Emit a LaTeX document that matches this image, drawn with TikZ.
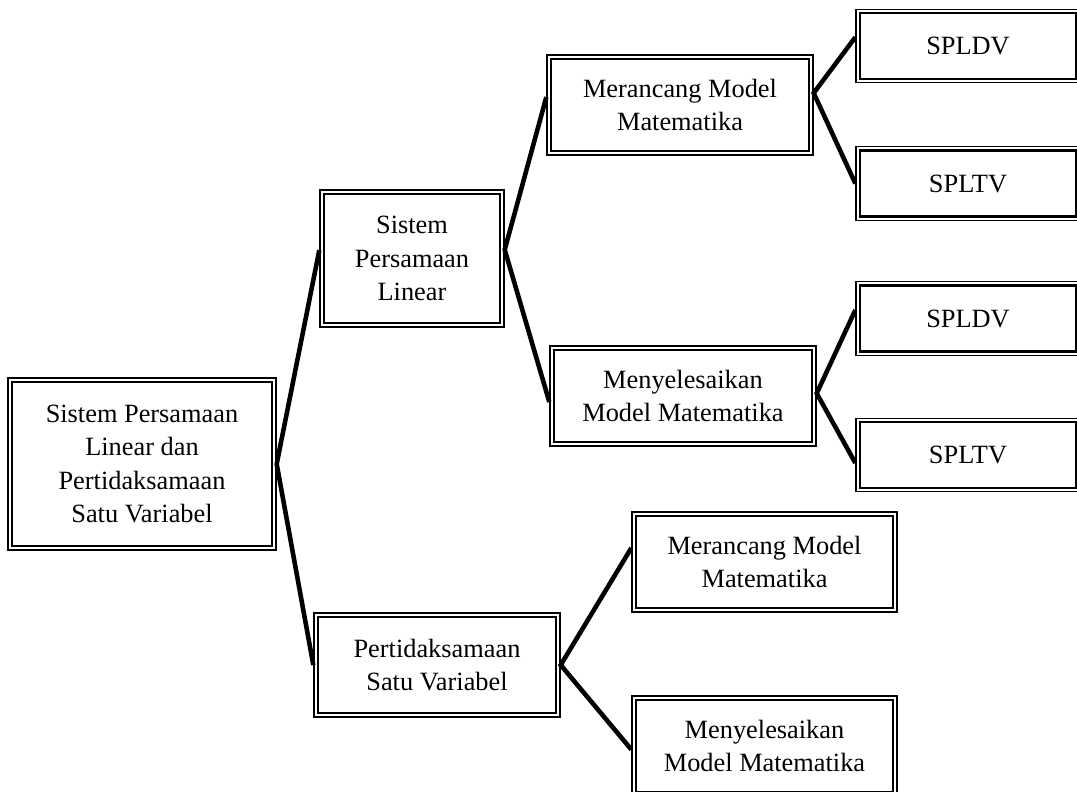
\documentclass[tikz,border=0pt]{standalone}
\usepackage{fontspec}
\setmainfont{Liberation Serif}
\begin{document}
\begin{tikzpicture}[x=0.02cm, y=-0.02cm]
        \tikzstyle{kotak}=[rectangle, draw, line width=0.8pt, align=center, inner sep=0pt,
            font=\fontsize{15}{19}\selectfont,
            append after command={\pgfextra{\draw[line width=1.3pt]
                ([shift={(2.5pt,-2.5pt)}]\tikzlastnode.north west) rectangle
                ([shift={(-2.5pt,2.5pt)}]\tikzlastnode.south east);}}]
        \tikzstyle{garis}=[line width=2.6pt]

        \useasboundingbox (0,0) rectangle (1077,791);

        \node[kotak, minimum width=5.36cm, minimum height=3.44cm] (root) at (142,464)
            {Sistem Persamaan\\Linear dan\\Pertidaksamaan\\Satu Variabel};
        \node[kotak, minimum width=3.68cm, minimum height=2.74cm] (spl) at (412,258.5)
            {Sistem\\Persamaan\\Linear};
        \node[kotak, minimum width=4.92cm, minimum height=2.08cm] (psv) at (437,665)
            {Pertidaksamaan\\Satu Variabel};

        \node[kotak, minimum width=5.32cm, minimum height=2cm] (rancang1) at (680,105)
            {Merancang Model\\Matematika};
        \node[kotak, minimum width=5.32cm, minimum height=2cm] (selesai1) at (683,396)
            {Menyelesaikan\\Model Matematika};
        \node[kotak, minimum width=5.3cm, minimum height=2cm] (rancang2) at (764.5,562)
            {Merancang Model\\Matematika};
        \node[kotak, minimum width=5.3cm, minimum height=2cm] (selesai2) at (764.5,746)
            {Menyelesaikan\\Model Matematika};

        \node[kotak, minimum width=4.48cm, minimum height=1.47cm] (spldv1) at (968,46) {SPLDV};
        \node[kotak, minimum width=4.48cm, minimum height=1.47cm] (spltv1) at (968,183.5) {SPLTV};
        \node[kotak, minimum width=4.48cm, minimum height=1.47cm] (spldv2) at (968,318.5) {SPLDV};
        \node[kotak, minimum width=4.48cm, minimum height=1.47cm] (spltv2) at (968,455) {SPLTV};

        \draw[garis] ([yshift=4.8pt]spl.west) -- (root.east) -- (psv.west);
        \draw[garis] ([yshift=4.5pt]rancang1.west) -- ([yshift=5pt]spl.east) -- ([yshift=-3.4pt]selesai1.west);
        \draw[garis] ([yshift=5pt]spldv1.west) -- ([yshift=6.8pt]rancang1.east) -- (spltv1.west);
        \draw[garis] ([yshift=4.8pt]spldv2.west) -- ([yshift=1.5pt]selesai1.east) -- ([yshift=-4.5pt]spltv2.west);
        \draw[garis] ([yshift=8pt]rancang2.west) -- (psv.east) -- ([yshift=-2pt]selesai2.west);
    \end{tikzpicture}
\end{document}
